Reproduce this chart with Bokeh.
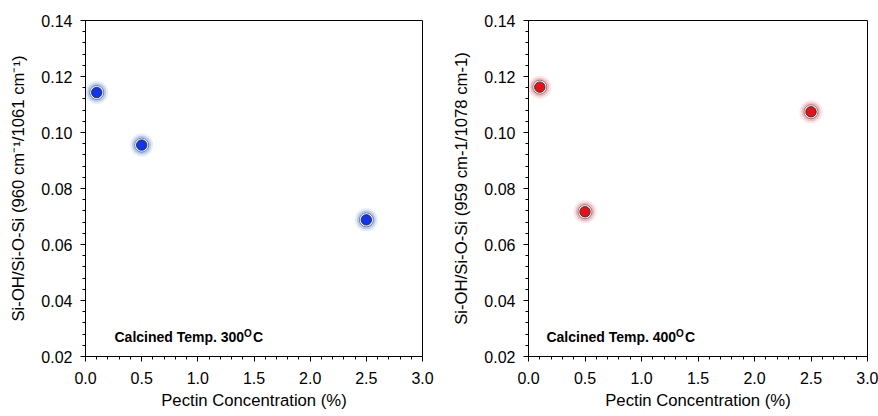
from bokeh.plotting import figure
from bokeh.layouts import row
from bokeh.models import Range1d, FixedTicker, NumeralTickFormatter, Label, ColumnDataSource
from bokeh.embed import file_html
from bokeh.resources import INLINE

# Data
conc = [0.1, 0.5, 2.5]
ratio_300 = [0.1143, 0.0955, 0.0688]
ratio_400 = [0.1162, 0.0717, 0.1074]

x_ticks = [0.0, 0.5, 1.0, 1.5, 2.0, 2.5, 3.0]
y_ticks = [0.02, 0.04, 0.06, 0.08, 0.10, 0.12, 0.14]

FONT = "Liberation Sans"


def make_fig(ylabel, ys, color, glow, width, border_left, border_right, border_top, border_bottom,
             ann_text, ann_x, ann_y):
    p = figure(width=width, height=416, output_backend="svg", toolbar_location=None,
               x_range=Range1d(0, 3), y_range=Range1d(0.02, 0.14),
               min_border_left=border_left, min_border_right=border_right,
               min_border_top=border_top, min_border_bottom=border_bottom)
    p.grid.visible = False
    p.outline_line_color = "black"
    p.outline_line_width = 1
    p.background_fill_color = "white"
    p.border_fill_color = "white"

    for ax in (p.xaxis[0], p.yaxis[0]):
        ax.axis_line_color = "black"
        ax.major_tick_in = 0
        ax.major_tick_out = 5
        ax.minor_tick_in = 0
        ax.minor_tick_out = 3
        ax.major_tick_line_color = "black"
        ax.minor_tick_line_color = "black"
        ax.major_label_text_font = FONT
        ax.major_label_text_font_size = "16px"
        ax.major_label_text_color = "black"
        ax.axis_label_text_font = FONT
        ax.axis_label_text_font_size = "16.7px"
        ax.axis_label_text_font_style = "normal"
        ax.axis_label_text_color = "black"

    p.xaxis.ticker = FixedTicker(ticks=x_ticks, minor_ticks=[i / 10 for i in range(31)])
    p.yaxis.ticker = FixedTicker(ticks=y_ticks, minor_ticks=[0.02 + i * 0.004 for i in range(31)])
    p.xaxis.formatter = NumeralTickFormatter(format="0.0")
    p.yaxis.formatter = NumeralTickFormatter(format="0.00")
    p.xaxis.major_label_standoff = 10
    p.yaxis.major_label_standoff = 8
    p.xaxis.axis_label = "Pectin Concentration (%)"
    p.yaxis.axis_label = ylabel
    p.xaxis.axis_label_standoff = 4
    p.yaxis.axis_label_standoff = 10

    src = ColumnDataSource(dict(x=conc, y=ys))
    p.scatter("x", "y", source=src, size=23, fill_color=glow, fill_alpha=0.15, line_color=None)
    p.scatter("x", "y", source=src, size=19, fill_color=glow, fill_alpha=0.3, line_color=None)
    p.scatter("x", "y", source=src, size=14, fill_color="white", line_color="#666666", line_width=0.8)
    p.scatter("x", "y", source=src, size=10.5, fill_color=color, line_color="#222222", line_width=0.8)

    common = dict(text_font=FONT, text_font_style="bold", text_color="black",
                  text_baseline="alphabetic")
    p.add_layout(Label(x=ann_x, y=ann_y, text=ann_text, text_font_size="14px", **common))
    p.add_layout(Label(x=ann_x, y=ann_y, x_offset=129.5, y_offset=3.5, text="O",
                       text_font_size="10px", **common))
    p.add_layout(Label(x=ann_x, y=ann_y, x_offset=138.5, text="C", text_font_size="14px", **common))
    return p


p1 = make_fig("Si-OH/Si-O-Si (960 cm\u207b\u00b9/1061 cm\u207b\u00b9)", ratio_300, "#0f35f2", "#4a80f8",
              440, 85, 18, 20, 58, "Calcined Temp. 300", 0.258, 0.0271)
p2 = make_fig("Si-OH/Si-O-Si (959 cm-1/1078 cm-1)", ratio_400, "#ea1018", "#f25a68",
              438, 88, 11, 18, 60, "Calcined Temp. 400", 0.159, 0.0271)

layout = row(p1, p2)
open("out.html", "w").write(file_html(layout, INLINE))
